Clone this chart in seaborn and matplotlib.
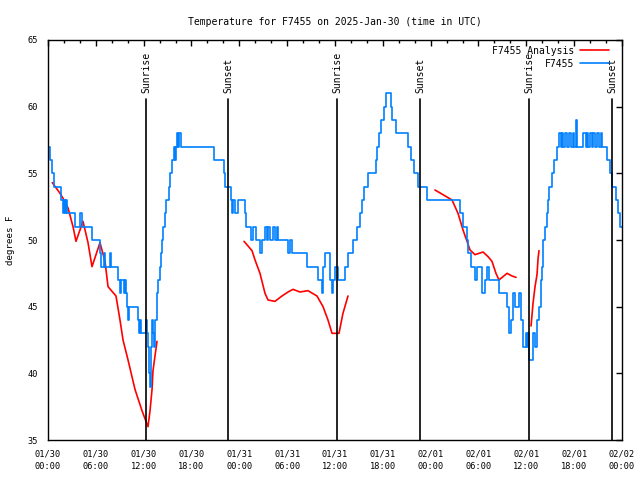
import pandas as pd
import numpy as np
import matplotlib
matplotlib.use('Agg')
from matplotlib import pyplot as plt
import matplotlib.dates as mdates
import seaborn as sns

start = pd.Timestamp('2025-01-30 00:00')

# observed station temperature (hours after 01/30 00:00 UTC, deg F)
obs_hours = [0.00, 0.25, 0.50, 0.75, 1.63, 1.88, 2.01, 2.13, 2.26, 2.38, 3.39, 4.01, 4.27, 5.52,
             6.52, 6.65, 7.02, 7.15, 7.78, 7.90, 8.78, 9.03, 9.16, 9.53, 9.66, 9.78, 9.91, 10.04,
             10.16, 11.29, 11.42, 11.54, 11.67, 12.29, 12.42, 12.54, 12.67, 12.80, 12.92, 13.05,
             13.17, 13.30, 13.42, 13.67, 13.80, 14.05, 14.17, 14.30, 14.43, 14.68, 14.80, 15.18,
             15.30, 15.55, 15.81, 15.93, 16.06, 16.18, 16.31, 16.43, 16.68, 20.82, 22.08, 22.20,
             22.96, 23.08, 23.21, 23.46, 23.83, 24.71, 24.84, 25.46, 25.72, 26.09, 26.59, 26.84,
             27.22, 27.47, 27.60, 27.85, 28.22, 28.47, 28.73, 28.85, 30.11, 30.36, 30.61, 32.49,
             33.87, 34.37, 34.50, 34.75, 35.37, 35.63, 35.75, 36.00, 36.38, 37.26, 37.63, 38.26,
             38.76, 39.14, 39.39, 39.64, 40.14, 41.14, 41.27, 41.52, 41.77, 42.15, 42.40, 43.03,
             43.15, 43.65, 45.16, 45.54, 45.91, 46.41, 47.54, 51.68, 52.06, 52.56, 52.69, 53.06,
             53.56, 53.81, 54.44, 54.82, 55.07, 55.32, 56.57, 57.58, 57.83, 58.08, 58.33, 58.58,
             59.08, 59.33, 59.58, 59.96, 60.09, 60.21, 60.34, 60.84, 61.09, 61.34, 61.59, 61.84,
             61.97, 62.09, 62.35, 62.60, 62.72, 62.85, 63.22, 63.48, 63.85, 64.10, 64.35, 64.48,
             64.60, 64.85, 65.10, 65.36, 65.61, 65.86, 65.98, 66.24, 66.36, 67.11, 67.49, 67.61,
             67.74, 67.99, 68.24, 68.37, 68.61, 68.87, 69.12, 69.37, 69.49, 70.12, 70.54, 70.74,
             71.24, 71.49, 71.75, 72.00]
obs_temp = [57, 56, 55, 54, 53, 52, 53, 52, 53, 52, 51, 52, 51, 50,
            49, 48, 49, 48, 49, 48, 47, 46, 47, 46, 47, 46, 45, 44,
            45, 44, 43, 44, 43, 44, 43, 42, 40, 39, 42, 44,
            43, 42, 44, 46, 47, 48, 49, 50, 51, 52, 53, 54,
            55, 56, 57, 56, 57, 58, 57, 58, 57, 56, 55, 54,
            53, 52, 53, 52, 53, 52, 51, 50, 51, 50, 49, 50,
            51, 50, 51, 50, 51, 50, 51, 50, 49, 50, 49, 48,
            47, 46, 48, 49, 47, 46, 47, 48, 47, 48, 49, 50,
            51, 52, 53, 54, 55, 56, 57, 58, 59, 60, 61, 60,
            59, 58, 57, 56, 55, 54, 53, 52, 51, 50, 49, 48,
            47, 48, 46, 47, 48, 47, 46, 45, 43, 44, 46, 45,
            46, 44, 42, 43, 42, 43, 41, 43, 42, 44, 45, 47,
            48, 50, 51, 52, 53, 54, 55, 56, 57, 58, 57, 58,
            57, 58, 57, 58, 57, 58, 57, 59, 57, 58, 57, 58,
            57, 58, 57, 58, 57, 58, 57, 58, 57, 56, 55, 54,
            53, 52, 51, 51]

# analysis temperature, in separate segments (gaps between them)
ana_seg = [1] * 24 + [2] * 19 + [3] * 16 + [4] * 6
ana_hours = [0.54, 1.51, 2.01, 2.51, 3.14, 3.51, 4.39, 5.02, 5.52, 6.52, 7.15, 7.53, 8.53, 9.03,
             9.41, 10.04, 10.91, 11.79, 12.29, 12.54, 12.80, 13.05, 13.17, 13.67,
             24.59, 25.59, 25.97, 26.59, 27.22, 27.60, 28.47, 29.35, 30.11, 30.73, 31.61, 32.61,
             33.74, 34.50, 35.12, 35.63, 36.50, 37.00, 37.63,
             48.54, 49.55, 50.68, 51.43, 52.06, 52.56, 52.94, 53.56, 54.57, 55.20, 55.69, 56.19,
             56.57, 57.58, 58.21, 58.71,
             60.59, 60.84, 61.09, 61.34, 61.47, 61.59]
ana_temp = [54.3, 53.5, 53.0, 52.4, 51.0, 49.9, 51.4, 49.8, 48.0, 49.8, 48.4, 46.5, 45.8, 44.0,
            42.5, 41.0, 38.8, 37.2, 36.4, 36.0, 37.2, 38.8, 40.2, 42.4,
            49.9, 49.2, 48.5, 47.5, 46.0, 45.5, 45.4, 45.8, 46.1, 46.3, 46.1, 46.2,
            45.8, 45.0, 44.0, 43.0, 43.0, 44.5, 45.8,
            53.75, 53.4, 53.0, 52.0, 50.75, 49.9, 49.25, 48.9, 49.1, 48.75, 48.4, 47.5,
            47.0, 47.5, 47.3, 47.2,
            43.55, 45.25, 46.5, 47.4, 48.6, 49.2]

sun_hours = [12.29, 22.58, 36.25, 46.66, 60.34, 70.75]
sun_labels = ['Sunrise', 'Sunset', 'Sunrise', 'Sunset', 'Sunrise', 'Sunset']

obs = pd.DataFrame({'time': start + pd.to_timedelta(obs_hours, unit='h'), 'temp': obs_temp})
ana = pd.DataFrame({'time': start + pd.to_timedelta(ana_hours, unit='h'), 'temp': ana_temp,
                    'seg': ana_seg})

sns.set_style('white')
plt.rcParams['font.family'] = ['DejaVu Sans Mono']
plt.rcParams['font.size'] = 7
for k in ['text.color', 'axes.labelcolor', 'xtick.color', 'ytick.color']:
    plt.rcParams[k] = 'black'

fig = plt.figure(figsize=(6.4, 4.8), dpi=100)
ax = fig.add_axes([48 / 640, 40 / 480, 574 / 640, 400 / 480])

sns.lineplot(data=ana, x='time', y='temp', units='seg', estimator=None, color='#ff0000',
             lw=1.2, ax=ax, label='F7455 Analysis')
sns.lineplot(data=obs, x='time', y='temp', color='#0080ff', lw=1.2, ax=ax,
             drawstyle='steps-post', label='F7455')

for h, lab in zip(sun_hours, sun_labels):
    t = start + pd.Timedelta(hours=h)
    ax.axvline(t, ymin=0, ymax=(60.6 - 35) / 30, color='black', lw=1.2)
    ax.text(t, 61.05, lab, rotation=90, ha='center', va='bottom', fontsize=7)

ax.set_xlim(start, start + pd.Timedelta(hours=72))
ax.set_ylim(35, 65)
ax.set_yticks(range(35, 66, 5))
ax.xaxis.set_major_locator(mdates.HourLocator(byhour=[0, 6, 12, 18]))
ax.xaxis.set_minor_locator(mdates.HourLocator(interval=2))
ax.xaxis.set_major_formatter(mdates.DateFormatter('%m/%d\n%H:%M'))
ax.tick_params(which='both', direction='in', top=True, right=True, width=1, labelsize=6.2)
ax.tick_params(which='major', length=4, pad=7)
ax.tick_params(which='minor', length=2)
for lbl in ax.get_xticklabels():
    lbl.set_linespacing(1.5)
for s in ax.spines.values():
    s.set_linewidth(1)
    s.set_color('black')

ax.set_xlabel('')
ax.set_ylabel('degrees F', fontsize=6.6)
ax.yaxis.set_label_coords(-0.058, 0.5)
ax.set_title('Temperature for F7455 on 2025-Jan-30 (time in UTC)', fontsize=7, pad=11)

# one legend entry per series
handles, labels = ax.get_legend_handles_labels()
uniq = {}
for hnd, lab in zip(handles, labels):
    uniq.setdefault(lab, hnd)
ax.legend(list(uniq.values()), list(uniq.keys()), loc='upper right', frameon=False,
          bbox_to_anchor=(0.988, 1.0), markerfirst=False, fontsize=7, handlelength=3.0,
          borderaxespad=0.2, labelspacing=0.3, handletextpad=0.6)

fig.savefig('out.png', dpi=100)
